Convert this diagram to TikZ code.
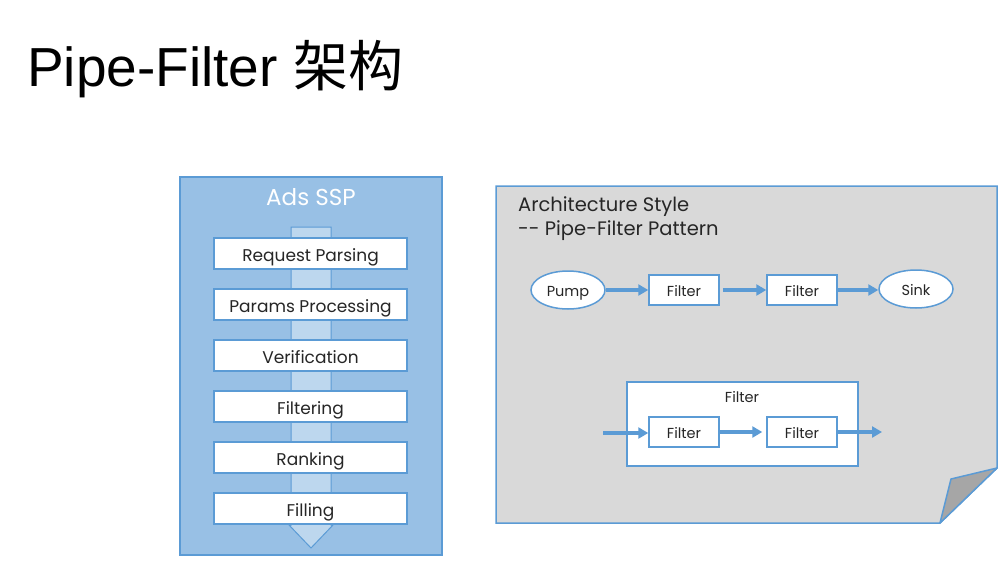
\documentclass[tikz,border=0pt]{standalone}
\usepackage{fontspec}
\setmainfont{Poppins}
\newfontfamily\titlefont{Liberation Sans}
\newfontfamily\cjk{Noto Sans CJK SC}
\usepackage{xcolor}
\usepackage{tikz}
\usetikzlibrary{shapes.geometric,arrows.meta,positioning}

\definecolor{edgeblue}{RGB}{91,155,213}
\definecolor{sspfill}{RGB}{152,192,229}
\definecolor{pipefill}{RGB}{189,215,238}
\definecolor{paper}{RGB}{217,217,217}
\definecolor{foldgray}{RGB}{166,166,166}
\definecolor{labeltext}{RGB}{38,38,38}

\begin{document}
\begin{tikzpicture}[
        x=1pt, y=-1pt,
        % Define styles for different components
        stage/.style={
            draw=edgeblue,
            fill=white,
            rectangle,
            line width=1.5pt,
            minimum width=193pt,
            minimum height=31pt,
            text height=17pt,
            text depth=2pt,
            text=labeltext,
            font=\fontsize{17}{19}\selectfont
        },
        filterbox/.style={
            draw=edgeblue,
            fill=white,
            rectangle,
            line width=1.5pt,
            minimum width=70pt,
            minimum height=30pt,
            text height=13pt,
            text depth=0pt,
            text=labeltext,
            font=\fontsize{14.5}{16}\selectfont
        },
        endpoint/.style={
            filterbox,
            ellipse,
            minimum width=74pt,
            minimum height=38pt
        },
        flow/.style={
            -{Triangle[length=10pt,width=11pt]},
            draw=edgeblue,
            line width=3.5pt
        }
    ]
    \useasboundingbox (0,0) rectangle (1008,575);

    % Slide title
    \node[anchor=base west, inner sep=0pt, font=\titlefont\fontsize{55}{60}\selectfont] (title)
        at (27,87) {Pipe-Filter {\cjk 架构}};

    % Ads SSP panel
    \node[draw=edgeblue, fill=sspfill, line width=1.5pt, minimum width=262pt, minimum height=378pt] (ssp) at (311,366) {};
    \node[text=white, font=\fontsize{23}{25}\selectfont] (ssptitle) at (311,197) {Ads SSP};
    \filldraw[draw=edgeblue, fill=pipefill, line width=1pt]
        (291,227) -- (331,227) -- (331,525) -- (333,525) -- (311,548) -- (289,525) -- (291,525) -- cycle;

    % Place the stages
    \foreach \name [count=\i] in {Request Parsing, Params Processing, Verification, Filtering, Ranking, Filling} {
        \node[stage] (stage\i) at (310.5,{253.5+51*(\i-1)}) {\name};
    }

    % Architecture style sheet with folded corner
    \filldraw[draw=edgeblue, fill=paper, line width=1.5pt]
        (496,186) -- (997,186) -- (997,468) -- (940,523) -- (496,523) -- cycle;
    \filldraw[draw=edgeblue, fill=foldgray, line width=1.5pt, line join=round]
        (997,468) -- (951,479) -- (940,523) -- cycle;
    \node[anchor=north west, align=left, inner sep=0pt, text=labeltext, font=\fontsize{19.5}{24.5}\selectfont] (style)
        at (518,196) {Architecture Style\\{-}{-} Pipe-Filter Pattern};

    % Pipeline from pump to sink
    \node[endpoint] (pump) at (568,290) {Pump};
    \node[filterbox] (f1) at (684,290) {Filter};
    \node[filterbox] (f2) at (802,290) {Filter};
    \node[endpoint] (sink) at (916,289) {Sink};

    \draw[flow] (pump) -- (f1);
    \draw[flow, shorten <=3pt] (f1) -- (f2);
    \draw[flow] (f2) -- (sink.west |- f2.east);

    % Composite filter
    \node[filterbox, minimum width=231pt, minimum height=84pt] (outer) at (742.5,424) {};
    \node[text=labeltext, font=\fontsize{14.5}{16}\selectfont] (outerlabel) at (742,397) {Filter};
    \node[filterbox] (g1) at (684,432) {Filter};
    \node[filterbox] (g2) at (802,432) {Filter};
    \coordinate (in) at (603,433);
    \coordinate (out) at (882,432);

    \draw[flow] (in) -- (g1.west |- in);
    \draw[flow, shorten >=4pt] (g1) -- (g2);
    \draw[flow] (g2) -- (out);

    \end{tikzpicture}
\end{document}
